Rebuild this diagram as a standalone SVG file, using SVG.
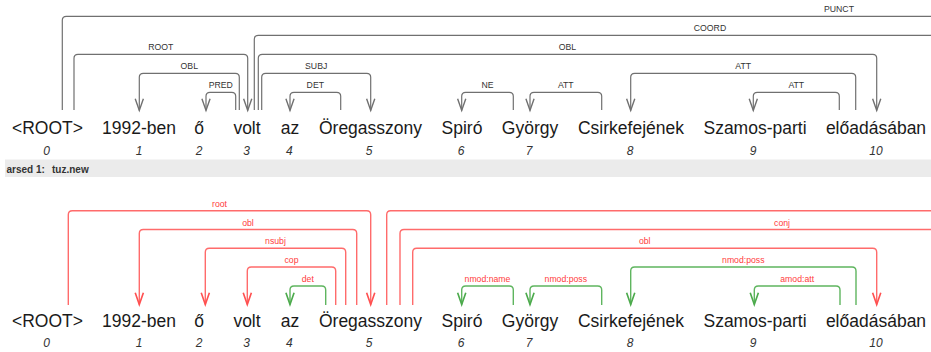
<svg xmlns="http://www.w3.org/2000/svg" width="931" height="352" viewBox="0 0 931 352">
<style>
.w{font-family:"Liberation Sans",Arial,sans-serif;font-size:17.5px;fill:#1a1a1a;text-anchor:middle}
.i{font-family:"Liberation Sans",Arial,sans-serif;font-size:12px;font-style:italic;fill:#333;text-anchor:middle}
.lt{font-family:"Liberation Sans",Arial,sans-serif;font-size:8.7px;fill:#333;text-anchor:middle}
.lb{font-family:"Liberation Sans",Arial,sans-serif;font-size:8.7px;fill:#ff3c3c;text-anchor:middle}
.g{fill:none;stroke:#707070;stroke-width:1.2}
.r{fill:none;stroke:#ff6b6b;stroke-width:1.4}
.gr{fill:none;stroke:#5fb55f;stroke-width:1.4}
.hdr{font-family:"Liberation Sans",Arial,sans-serif;font-size:10px;font-weight:bold;fill:#333}
</style>
<defs>
<marker id="ag" markerUnits="userSpaceOnUse" markerWidth="14" markerHeight="14" refX="0" refY="0" viewBox="-11 -6 12 12" orient="auto" overflow="visible"><path d="M-10,-3.5 L0,0 L-10,3.5" fill="none" stroke="#707070" stroke-width="1.2"/></marker>
<marker id="ar" markerUnits="userSpaceOnUse" markerWidth="14" markerHeight="14" refX="0" refY="0" viewBox="-11 -6 12 12" orient="auto" overflow="visible"><path d="M-10,-3.5 L0,0 L-10,3.5" fill="none" stroke="#ff5050" stroke-width="1.4"/></marker>
<marker id="agr" markerUnits="userSpaceOnUse" markerWidth="14" markerHeight="14" refX="0" refY="0" viewBox="-11 -6 12 12" orient="auto" overflow="visible"><path d="M-10,-3.5 L0,0 L-10,3.5" fill="none" stroke="#4caa4c" stroke-width="1.4"/></marker>
</defs>
<rect width="931" height="352" fill="#ffffff"/>

<!-- top tree nodes -->
<g id="t0"><text class="w" x="47.5" y="134">&lt;ROOT&gt;</text><text class="i" x="46.7" y="155">0</text></g>
<g id="t1"><text class="w" x="139" y="134">1992-ben</text><text class="i" x="139" y="155">1</text></g>
<g id="t2"><text class="w" x="199" y="134">ő</text><text class="i" x="199" y="155">2</text></g>
<g id="t3"><text class="w" x="247" y="134">volt</text><text class="i" x="246.7" y="155">3</text></g>
<g id="t4"><text class="w" x="290" y="134">az</text><text class="i" x="289.3" y="155">4</text></g>
<g id="t5"><text class="w" x="370.5" y="134">Öregasszony</text><text class="i" x="369" y="155">5</text></g>
<g id="t6"><text class="w" x="462" y="134">Spiró</text><text class="i" x="461" y="155">6</text></g>
<g id="t7"><text class="w" x="530" y="134">György</text><text class="i" x="529" y="155">7</text></g>
<g id="t8"><text class="w" x="631" y="134">Csirkefejének</text><text class="i" x="630" y="155">8</text></g>
<g id="t9"><text class="w" x="755" y="134">Szamos-parti</text><text class="i" x="753" y="155">9</text></g>
<g id="t10"><text class="w" x="876" y="134">előadásában</text><text class="i" x="876" y="155">10</text></g>

<!-- top connectors -->
<g id="top-edges">
<path class="g" d="M62.3,110 V20.3 Q62.3,16.3 66.3,16.3 H940"/>
<text class="lt" x="839" y="12.3">PUNCT</text>
<path class="g" d="M74,110 V58.3 Q74,54.3 78,54.3 H243.7 Q247.7,54.3 247.7,58.3 V110.5" marker-end="url(#ag)"/>
<text class="lt" x="160.8" y="50.3">ROOT</text>
<path class="g" d="M239.3,110 V77.3 Q239.3,73.3 235.3,73.3 H143.3 Q139.3,73.3 139.3,77.3 V110.5" marker-end="url(#ag)"/>
<text class="lt" x="189.3" y="69.3">OBL</text>
<path class="g" d="M235.7,110 V96.3 Q235.7,92.3 231.7,92.3 H210 Q206,92.3 206,96.3 V110.5" marker-end="url(#ag)"/>
<text class="lt" x="220.8" y="88.3">PRED</text>
<path class="g" d="M254.3,110 V39.3 Q254.3,35.3 258.3,35.3 H940"/>
<text class="lt" x="710" y="31.3">COORD</text>
<path class="g" d="M258.3,110 V58.3 Q258.3,54.3 262.3,54.3 H872.7 Q876.7,54.3 876.7,58.3 V110.5" marker-end="url(#ag)"/>
<text class="lt" x="567.5" y="50.3">OBL</text>
<path class="g" d="M261.7,110 V77.3 Q261.7,73.3 265.7,73.3 H366.7 Q370.7,73.3 370.7,77.3 V110.5" marker-end="url(#ag)"/>
<text class="lt" x="316.2" y="69.3">SUBJ</text>
<path class="g" d="M340.7,110 V96.3 Q340.7,92.3 336.7,92.3 H294 Q290,92.3 290,96.3 V110.5" marker-end="url(#ag)"/>
<text class="lt" x="315.3" y="88.3">DET</text>
<path class="g" d="M513.3,110 V96.3 Q513.3,92.3 509.3,92.3 H465.7 Q461.7,92.3 461.7,96.3 V110.5" marker-end="url(#ag)"/>
<text class="lt" x="487.5" y="88.3">NE</text>
<path class="g" d="M601.7,110 V96.3 Q601.7,92.3 597.7,92.3 H534 Q530,92.3 530,96.3 V110.5" marker-end="url(#ag)"/>
<text class="lt" x="565.8" y="88.3">ATT</text>
<path class="g" d="M855.7,110 V77.3 Q855.7,73.3 851.7,73.3 H634.7 Q630.7,73.3 630.7,77.3 V110.5" marker-end="url(#ag)"/>
<text class="lt" x="743.2" y="69.3">ATT</text>
<path class="g" d="M839.3,110 V96.3 Q839.3,92.3 835.3,92.3 H757.3 Q753.3,92.3 753.3,96.3 V110.5" marker-end="url(#ag)"/>
<text class="lt" x="796.3" y="88.3">ATT</text>
</g>

<!-- header bar -->
<g id="header">
<rect x="5" y="159.5" width="926" height="17.5" fill="#ebebeb"/>
<text class="hdr" x="6.5" y="172.5">arsed 1:</text>
<text class="hdr" x="52" y="172.5">tuz.new</text>
</g>

<!-- bottom tree nodes -->
<g id="b0"><text class="w" x="47.5" y="327">&lt;ROOT&gt;</text><text class="i" x="46.7" y="347">0</text></g>
<g id="b1"><text class="w" x="139" y="327">1992-ben</text><text class="i" x="139" y="347">1</text></g>
<g id="b2"><text class="w" x="199" y="327">ő</text><text class="i" x="199" y="347">2</text></g>
<g id="b3"><text class="w" x="247" y="327">volt</text><text class="i" x="246.7" y="347">3</text></g>
<g id="b4"><text class="w" x="290" y="327">az</text><text class="i" x="289.3" y="347">4</text></g>
<g id="b5"><text class="w" x="370.5" y="327">Öregasszony</text><text class="i" x="369" y="347">5</text></g>
<g id="b6"><text class="w" x="462" y="327">Spiró</text><text class="i" x="461" y="347">6</text></g>
<g id="b7"><text class="w" x="530" y="327">György</text><text class="i" x="529" y="347">7</text></g>
<g id="b8"><text class="w" x="631" y="327">Csirkefejének</text><text class="i" x="630" y="347">8</text></g>
<g id="b9"><text class="w" x="755" y="327">Szamos-parti</text><text class="i" x="753" y="347">9</text></g>
<g id="b10"><text class="w" x="876" y="327">előadásában</text><text class="i" x="876" y="347">10</text></g>

<!-- bottom connectors -->
<g id="bottom-edges">
<path class="r" d="M68.3,305 V214.7 Q68.3,210.7 72.3,210.7 H366.7 Q370.7,210.7 370.7,214.7 V304.5" marker-end="url(#ar)"/>
<text class="lb" x="219.5" y="206.7">root</text>
<path class="r" d="M356.7,305 V233.5 Q356.7,229.5 352.7,229.5 H143.3 Q139.3,229.5 139.3,233.5 V304.5" marker-end="url(#ar)"/>
<text class="lb" x="248" y="225.5">obl</text>
<path class="r" d="M345.7,305 V252.3 Q345.7,248.3 341.7,248.3 H209.3 Q205.3,248.3 205.3,252.3 V304.5" marker-end="url(#ar)"/>
<text class="lb" x="275.5" y="244.3">nsubj</text>
<path class="r" d="M335.7,305 V271 Q335.7,267 331.7,267 H251.3 Q247.3,267 247.3,271 V304.5" marker-end="url(#ar)"/>
<text class="lb" x="291.5" y="263">cop</text>
<path class="gr" d="M325.7,305 V290 Q325.7,286 321.7,286 H294 Q290,286 290,290 V304.5" marker-end="url(#agr)"/>
<text class="lb" x="307.8" y="282">det</text>
<path class="r" d="M386.7,305 V214.7 Q386.7,210.7 390.7,210.7 H940"/>
<path class="r" d="M400,305 V233.5 Q400,229.5 404,229.5 H940"/>
<text class="lb" x="782" y="225.5">conj</text>
<path class="r" d="M412.7,305 V252.3 Q412.7,248.3 416.7,248.3 H872.7 Q876.7,248.3 876.7,252.3 V304.5" marker-end="url(#ar)"/>
<text class="lb" x="644.7" y="244.3">obl</text>
<path class="gr" d="M513.3,305 V290 Q513.3,286 509.3,286 H465.7 Q461.7,286 461.7,290 V304.5" marker-end="url(#agr)"/>
<text class="lb" x="487.5" y="282">nmod:name</text>
<path class="gr" d="M601.7,305 V290 Q601.7,286 597.7,286 H534 Q530,286 530,290 V304.5" marker-end="url(#agr)"/>
<text class="lb" x="565.8" y="282">nmod:poss</text>
<path class="gr" d="M856,305 V271 Q856,267 852,267 H634.7 Q630.7,267 630.7,271 V304.5" marker-end="url(#agr)"/>
<text class="lb" x="743.3" y="263">nmod:poss</text>
<path class="gr" d="M840,305 V290 Q840,286 836,286 H758.3 Q754.3,286 754.3,290 V304.5" marker-end="url(#agr)"/>
<text class="lb" x="797.2" y="282">amod:att</text>
</g>
</svg>
